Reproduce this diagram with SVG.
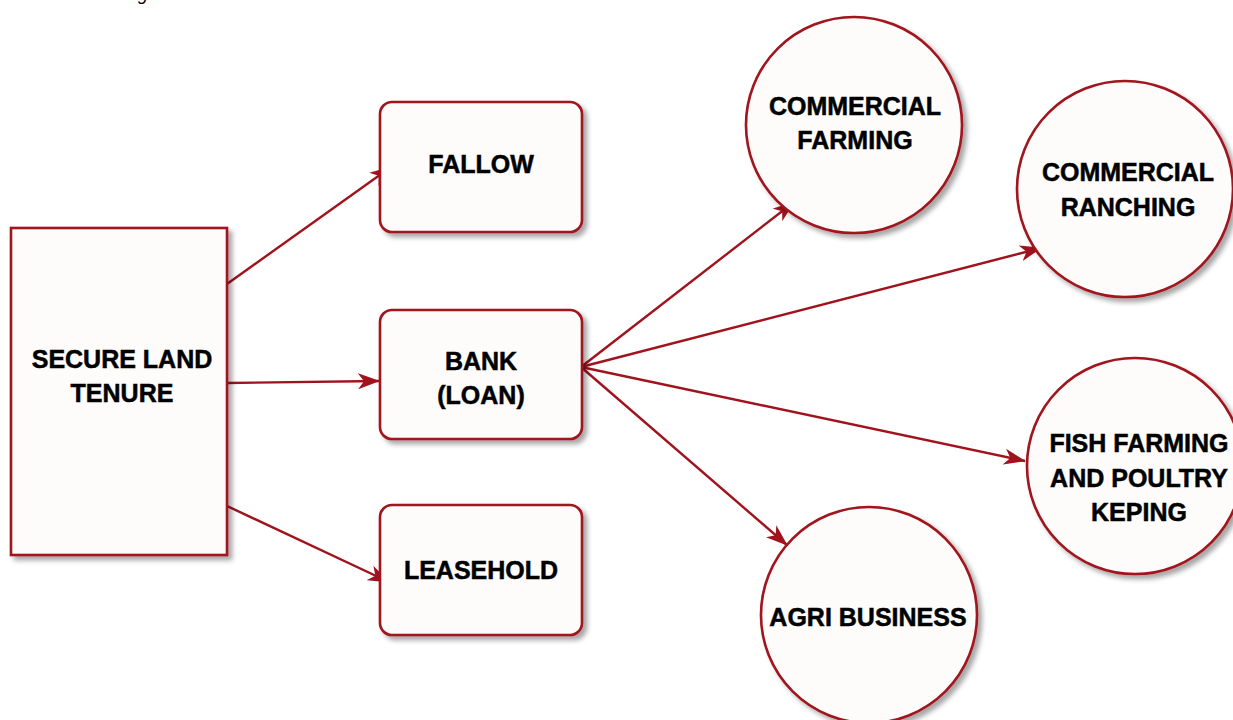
<svg xmlns="http://www.w3.org/2000/svg" width="1233" height="720" viewBox="0 0 1233 720">
<defs>
<filter id="sh" x="-20%" y="-20%" width="140%" height="140%">
<feDropShadow dx="4" dy="4" stdDeviation="2.5" flood-color="#000" flood-opacity="0.35"/>
</filter>
<marker id="ah" viewBox="0 0 22 16" refX="21" refY="8" markerWidth="22" markerHeight="16" markerUnits="userSpaceOnUse" orient="auto">
<path d="M0,0 L22,8 L0,16 L6,8 Z" fill="#a0131d"/>
</marker>
<style>
.box{fill:#fdfcfb;stroke:#a0131d;stroke-width:2.6;filter:url(#sh)}
.lbl{font-family:"Liberation Sans",Arial,sans-serif;font-weight:bold;font-size:25px;fill:#000;stroke:#000;stroke-width:0.5;text-anchor:middle}
.con{fill:none;stroke:#a0131d;stroke-width:2.4;marker-end:url(#ah)}
</style>
</defs>
<rect width="1233" height="720" fill="#fff"/>
<text x="138" y="0" font-family="Liberation Sans,Arial,sans-serif" font-style="italic" font-size="18" fill="#000">g</text>
<g id="connectors">
<line class="con" x1="227" y1="284" x2="391" y2="167"/>
<line class="con" x1="227" y1="383" x2="379" y2="381"/>
<line class="con" x1="227" y1="506" x2="389" y2="582"/>
<line class="con" x1="581" y1="367" x2="794" y2="202"/>
<line class="con" x1="581" y1="367" x2="1041" y2="248"/>
<line class="con" x1="581" y1="367" x2="1025" y2="461"/>
<line class="con" x1="581" y1="367" x2="787" y2="545"/>
</g>
<g id="secure">
<rect class="box" x="11" y="228" width="216" height="327"/>
<text class="lbl" x="122" y="368">SECURE LAND</text>
<text class="lbl" x="122" y="402">TENURE</text>
</g>
<g id="fallow">
<rect class="box" x="380" y="102" width="202" height="130" rx="12"/>
<text class="lbl" x="481" y="173">FALLOW</text>
</g>
<g id="bank">
<rect class="box" x="380" y="310" width="202" height="129" rx="12"/>
<text class="lbl" x="481" y="370">BANK</text>
<text class="lbl" x="481" y="404">(LOAN)</text>
</g>
<g id="leasehold">
<rect class="box" x="380" y="505" width="202" height="130" rx="12"/>
<text class="lbl" x="481" y="579">LEASEHOLD</text>
</g>
<g id="commercial-farming">
<circle class="box" cx="854" cy="125" r="108"/>
<text class="lbl" x="855" y="115">COMMERCIAL</text>
<text class="lbl" x="855" y="149">FARMING</text>
</g>
<g id="commercial-ranching">
<circle class="box" cx="1125" cy="189" r="108"/>
<text class="lbl" x="1128" y="181">COMMERCIAL</text>
<text class="lbl" x="1128" y="216">RANCHING</text>
</g>
<g id="fish-farming">
<circle class="box" cx="1135" cy="466" r="108"/>
<text class="lbl" x="1139" y="452">FISH FARMING</text>
<text class="lbl" x="1139" y="487">AND POULTRY</text>
<text class="lbl" x="1139" y="521">KEPING</text>
</g>
<g id="agri-business">
<circle class="box" cx="869" cy="615" r="108"/>
<text class="lbl" x="868" y="626">AGRI BUSINESS</text>
</g>
</svg>
